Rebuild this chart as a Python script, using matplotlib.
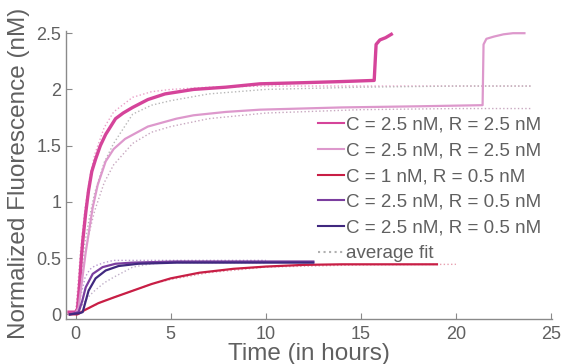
import matplotlib
matplotlib.use("Agg")
import matplotlib.pyplot as plt

# =========================
# 1. Data
# =========================
t_c25_r25_a = [-0.35, 0.0, 0.1, 0.2, 0.3, 0.38, 0.53, 0.68, 0.85, 1.05, 1.3, 1.58, 2.1, 2.5,
               3.0, 3.8, 4.7, 6.2, 7.9, 9.7, 12.0, 14.0, 15.7, 15.8, 16.0, 16.3, 16.6]
y_c25_r25_a = [0.02, 0.02, 0.05, 0.25, 0.5, 0.66, 0.9, 1.1, 1.27, 1.38, 1.5, 1.6, 1.74, 1.79,
               1.84, 1.91, 1.96, 2.0, 2.02, 2.05, 2.06, 2.07, 2.08, 2.4, 2.44, 2.46, 2.49]

t_c25_r25_b = [-0.35, 0.0, 0.16, 0.3, 0.53, 0.9, 1.16, 1.58, 2.0, 2.6, 3.8, 5.3, 6.2, 7.9,
               9.7, 14.0, 18.0, 21.4, 21.45, 21.6, 22.0, 22.5, 23.0, 23.6]
y_c25_r25_b = [0.0, 0.01, 0.06, 0.25, 0.55, 0.95, 1.15, 1.36, 1.47, 1.56, 1.67, 1.74, 1.77, 1.8,
               1.82, 1.84, 1.85, 1.86, 2.4, 2.45, 2.47, 2.49, 2.5, 2.5]

t_c1_r05 = [-0.3, 0.1, 0.5, 1.2, 2.0, 3.0, 4.0, 5.0, 6.5, 8.3, 10.0, 12.0, 14.0, 16.0, 19.0]
y_c1_r05 = [0.0, 0.0, 0.04, 0.1, 0.15, 0.21, 0.27, 0.32, 0.37, 0.405, 0.425, 0.44, 0.445, 0.445, 0.445]

t_c25_r05_a = [-0.3, 0.16, 0.35, 0.53, 0.9, 1.42, 2.1, 3.0, 5.3, 8.0, 10.0, 12.5]
y_c25_r05_a = [0.0, 0.02, 0.12, 0.24, 0.36, 0.42, 0.45, 0.46, 0.47, 0.47, 0.47, 0.47]

t_c25_r05_b = [-0.3, 0.2, 0.37, 0.68, 1.05, 1.58, 2.26, 3.3, 5.3, 8.0, 10.0, 12.5]
y_c25_r05_b = [0.0, 0.01, 0.02, 0.21, 0.32, 0.39, 0.43, 0.45, 0.46, 0.46, 0.46, 0.46]

# fits
t_fit = [0.0, 0.25, 0.5, 0.75, 1.0, 1.5, 2.0, 3.0, 4.0, 5.0, 7.0, 10.0, 15.0, 20.0, 24.0]
fit_high_fast = [0.0, 0.55, 0.95, 1.22, 1.42, 1.66, 1.8, 1.93, 1.98, 2.0, 2.02, 2.03, 2.03, 2.03, 2.03]
fit_high_avg = [0.0, 0.35, 0.65, 0.88, 1.08, 1.35, 1.52, 1.78, 1.86, 1.9, 1.96, 2.0, 2.02, 2.03, 2.03]
fit_high_slow = [0.0, 0.28, 0.55, 0.75, 0.92, 1.17, 1.33, 1.52, 1.62, 1.67, 1.74, 1.79, 1.82, 1.83, 1.83]
fit_low_fast = [0.0, 0.15, 0.33, 0.4, 0.43, 0.46, 0.48, 0.48, 0.48, 0.48, 0.48, 0.48, 0.48, 0.48, 0.48]
fit_low_avg = [0.0, 0.06, 0.12, 0.17, 0.21, 0.28, 0.33, 0.42, 0.45, 0.46, 0.46, 0.46, 0.46, 0.46, 0.46]
fit_red = [0.0, 0.02, 0.04, 0.06, 0.08, 0.12, 0.15, 0.21, 0.27, 0.31, 0.37, 0.42, 0.44, 0.445, 0.445]

labels = ["C = 2.5 nM, R = 2.5 nM", "C = 2.5 nM, R = 2.5 nM", "C = 1 nM, R = 0.5 nM",
          "C = 2.5 nM, R = 0.5 nM", "C = 2.5 nM, R = 0.5 nM", "average fit"]

# =========================
# 2. Style
# =========================
plt.rcParams["font.family"] = ["Liberation Sans", "DejaVu Sans"]
gray_txt = "#606060"
gray_ax = "#8a8a8a"

fig = plt.figure(figsize=(5.65, 3.64), dpi=100)
ax = fig.add_axes([0.117, 0.124, 0.86, 0.791])

# =========================
# 3. Plot
# =========================
ax.plot(t_fit, fit_high_fast, color="#eaa0c8", linestyle=":", linewidth=1.0)
ax.plot(t_fit, fit_high_avg, color="#b8b8b8", linestyle=":", linewidth=1.0)
ax.plot(t_fit, fit_high_slow, color="#c8a8c0", linestyle=":", linewidth=1.0)
ax.plot(t_fit[:12], fit_low_fast[:12], color="#b89ad0", linestyle=":", linewidth=1.0)
ax.plot(t_fit[:12], fit_low_avg[:12], color="#c0b0c8", linestyle=":", linewidth=1.0)
ax.plot(t_fit[:14], fit_red[:14], color="#e8a0b0", linestyle=":", linewidth=1.0)

ax.plot(t_c25_r25_a, y_c25_r25_a, color="#d5449a", linewidth=2.4, label=labels[0])
ax.plot(t_c25_r25_b, y_c25_r25_b, color="#dd98cc", linewidth=1.6, label=labels[1])
ax.plot(t_c1_r05, y_c1_r05, color="#c81e45", linewidth=1.6, label=labels[2])
ax.plot(t_c25_r05_a, y_c25_r05_a, color="#7b3e9f", linewidth=1.6, label=labels[3])
ax.plot(t_c25_r05_b, y_c25_r05_b, color="#40287f", linewidth=1.6, label=labels[4])
ax.plot([], [], color="#b0b0b0", linestyle=":", linewidth=1.0, label=labels[5])

ax.set_xlim(-0.5, 25.05)
ax.set_ylim(-0.04, 2.52)
ax.set_xticks([0, 5, 10, 15, 20, 25])
ax.set_yticks([0, 0.5, 1, 1.5, 2, 2.5])
ax.set_yticklabels(["0", "0.5", "1", "1.5", "2", "2.5"])

for side in ["top", "right"]:
    ax.spines[side].set_visible(False)
for side in ["left", "bottom"]:
    ax.spines[side].set_color(gray_ax)
    ax.spines[side].set_linewidth(1.0)
ax.tick_params(direction="in", length=4, color=gray_ax, labelcolor=gray_txt, labelsize=13)
ax.tick_params(axis="x", pad=5)

ax.set_xlabel("Time (in hours)", fontsize=17.5, color=gray_txt)
ax.xaxis.set_label_coords(0.5, -0.085, transform=ax.transAxes)
ax.xaxis.label.set_verticalalignment("top")
ax.set_ylabel("Normalized Fluorescence (nM)", fontsize=17.5, color=gray_txt)
ax.yaxis.set_label_coords(-0.075, 0.505)

leg = ax.legend(loc="upper right", bbox_to_anchor=(1.0, 0.742), frameon=False, fontsize=13.5,
                handlelength=1.35, handletextpad=0.1, labelspacing=0.46, borderaxespad=0.2)
for line in leg.get_lines():
    line.set_linewidth(1.5)
for txt in leg.get_texts():
    txt.set_color(gray_txt)

fig.savefig("out.png", dpi=100)
